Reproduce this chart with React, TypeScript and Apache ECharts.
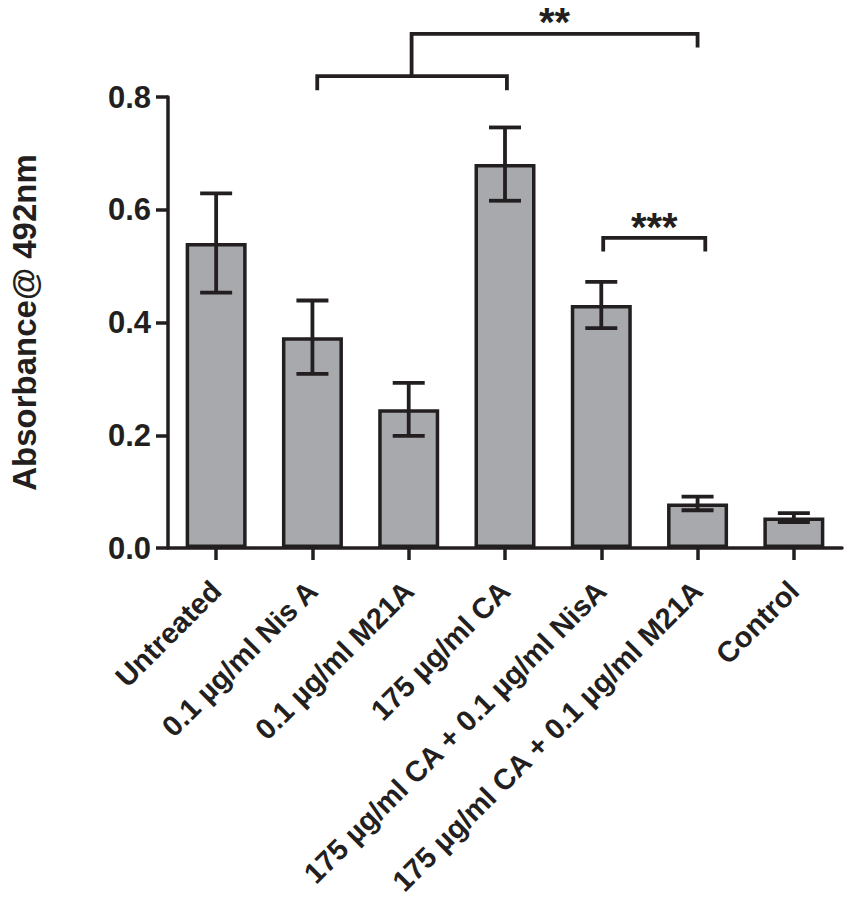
import React, { useEffect, useRef } from "react";
import * as echarts from "echarts";

const categories = [
  "Untreated",
  "0.1 µg/ml Nis A",
  "0.1 µg/ml M21A",
  "175 µg/ml CA",
  "175 µg/ml CA + 0.1 µg/ml NisA",
  "175 µg/ml CA + 0.1 µg/ml M21A",
  "Control",
];
const means = [0.541, 0.374, 0.246, 0.681, 0.431, 0.079, 0.054];
const errors = [0.088, 0.065, 0.047, 0.065, 0.041, 0.012, 0.008];

// significance brackets (x in category index units, y in data units)
const bracketStarts = [1.05, 2.03, 4.02];
const bracketEnds = [3.02, 5.0, 5.08];
const bracketLevels = [0.837, 0.912, 0.55];
const bracketLeftDrops = [0.812, 0.837, 0.526];
const bracketRightDrops = [0.812, 0.888, 0.526];
const starTexts = ["", "**", "***"];
const starLevels = [0, 0.933, 0.569];

const INK = "#231f20";
const FONT = "'Liberation Sans', Arial, Helvetica, sans-serif";

export default function App() {
  const ref = useRef<HTMLDivElement>(null);
  useEffect(() => {
    if (!ref.current) return;
    const chart = echarts.init(ref.current, undefined, { renderer: "svg" });

    const xAt = (api: any, v: number, y: number) => {
      const base = Math.floor(v);
      const p = api.coord([base, y]);
      const band = api.size([1, 0])[0];
      return [p[0] + (v - base) * band, p[1]];
    };

    chart.setOption({
      animation: false,
      backgroundColor: "#ffffff",
      textStyle: { fontFamily: FONT },
      grid: { left: 166, right: 10, top: 97, bottom: 365, containLabel: false },
      xAxis: {
        type: "category",
        data: categories,
        axisLine: { show: true, lineStyle: { color: INK, width: 3.5 } },
        axisTick: { show: true, alignWithLabel: true, length: 12, lineStyle: { color: INK, width: 3.5 } },
        axisLabel: {
          interval: 0,
          rotate: 45,
          margin: 38,
          fontSize: 29,
          fontWeight: "bold",
          color: INK,
          fontFamily: FONT,
        },
      },
      yAxis: {
        type: "value",
        min: 0,
        max: 0.8,
        interval: 0.2,
        name: "Absorbance@ 492nm",
        nameLocation: "middle",
        nameGap: 127,
        nameTextStyle: { fontSize: 33, fontWeight: "bold", color: INK, fontFamily: FONT },
        axisLine: { show: true, lineStyle: { color: INK, width: 3.5 } },
        axisTick: { show: true, length: 12, lineStyle: { color: INK, width: 3.5 } },
        splitLine: { show: false },
        axisLabel: {
          margin: 17,
          fontSize: 31,
          fontWeight: "bold",
          color: INK,
          fontFamily: FONT,
          formatter: (v: number) => v.toFixed(1),
        },
      },
      series: [
        {
          type: "bar",
          data: means,
          barWidth: 61,
          itemStyle: { color: "#a7a9ac", borderColor: INK, borderWidth: 3.5 },
        },
        {
          type: "custom",
          clip: false,
          z: 5,
          data: means.map((m, i) => [i, m, errors[i]]),
          renderItem: (params: any, api: any) => {
            const i = api.value(0);
            const m = api.value(1);
            const e = api.value(2);
            const top = api.coord([i, m + e]);
            const bot = api.coord([i, m - e]);
            const hw = 16;
            const style = { stroke: INK, lineWidth: 3.8 };
            return {
              type: "group",
              children: [
                { type: "line", shape: { x1: top[0], y1: top[1], x2: bot[0], y2: bot[1] }, style },
                { type: "line", shape: { x1: top[0] - hw, y1: top[1], x2: top[0] + hw, y2: top[1] }, style },
                { type: "line", shape: { x1: bot[0] - hw, y1: bot[1], x2: bot[0] + hw, y2: bot[1] }, style },
              ],
            };
          },
        },
        {
          type: "custom",
          clip: false,
          z: 6,
          data: bracketStarts.map((s, k) => [Math.floor(s), bracketLevels[k]]),
          renderItem: (params: any, api: any) => {
            const k = params.dataIndex;
            const style = { stroke: INK, lineWidth: 3.8, fill: null };
            const p1 = xAt(api, bracketStarts[k], bracketLeftDrops[k]);
            const p2 = xAt(api, bracketStarts[k], bracketLevels[k]);
            const p3 = xAt(api, bracketEnds[k], bracketLevels[k]);
            const p4 = xAt(api, bracketEnds[k], bracketRightDrops[k]);
            const children: any[] = [
              { type: "polyline", shape: { points: [p1, p2, p3, p4] }, style },
            ];
            if (starTexts[k]) {
              const c = xAt(api, (bracketStarts[k] + bracketEnds[k]) / 2, starLevels[k]);
              children.push({
                type: "text",
                x: c[0],
                y: c[1],
                style: {
                  text: starTexts[k],
                  align: "center",
                  verticalAlign: "middle",
                  fontSize: 40,
                  fontWeight: "bold",
                  fontFamily: FONT,
                  fill: INK,
                },
              });
            }
            return { type: "group", children };
          },
        },
      ],
    });
    return () => chart.dispose();
  }, []);
  return (
    <div
      ref={ref}
      style={{ position: "fixed", left: 0, top: 0, width: 852, height: 913, background: "#fff" }}
    />
  );
}
